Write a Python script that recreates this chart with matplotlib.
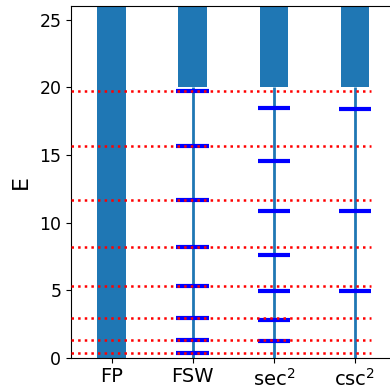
import matplotlib
matplotlib.use("Agg")
import matplotlib.pyplot as plt

# Energy levels per method
categories = ["FP", "FSW", "sec$^2$", "csc$^2$"]
exact_levels = [0.33, 1.29, 2.96, 5.28, 8.17, 11.67, 15.69, 19.74]
fsw_levels = [0.33, 1.29, 2.96, 5.28, 8.17, 11.67, 15.69, 19.74]
sec2_levels = [1.21, 2.77, 4.91, 7.62, 10.88, 14.58, 18.48]
csc2_levels = [4.91, 10.86, 18.43]
band_bottom = [0, 20, 20, 20]
e_max = 26

fig = plt.figure(figsize=(3.9, 3.92), dpi=100)
ax = fig.add_axes([71 / 390, 34.3 / 392, 324.5 / 390, 351.3 / 392])

x = list(range(len(categories)))
# shaded bands (continuum / unresolved region)
ax.bar(x, [e_max - b for b in band_bottom], bottom=band_bottom,
       width=0.35, color="C0", zorder=1)

# spectrum axes for the approximate methods
ax.vlines(x[1:], 0, band_bottom[1:], color="C0", lw=2, zorder=2)

# computed levels
for xi, levels in zip(x[1:], [fsw_levels, sec2_levels, csc2_levels]):
    ax.hlines(levels, xi - 0.2, xi + 0.2, color="blue", lw=3, zorder=3)

# reference levels
ax.hlines(exact_levels, -0.5, 3.2, color="red", lw=1.8, ls=":", zorder=4)

ax.set_xlim(-0.5, 3.5)
ax.set_ylim(0, e_max)
ax.set_xticks(x)
ax.set_xticklabels(categories, fontsize=14)
ax.tick_params(axis="y", labelsize=12.5)
ax.set_ylabel("E", fontsize=16, labelpad=6)

fig.savefig("out.png", dpi=100)
